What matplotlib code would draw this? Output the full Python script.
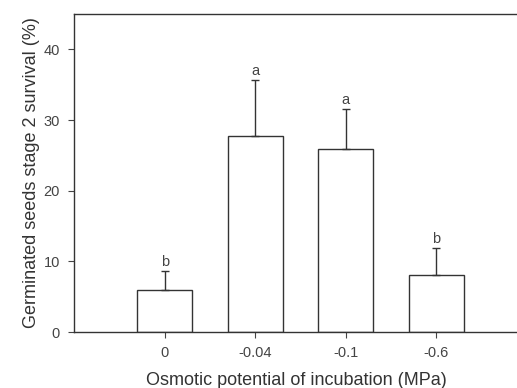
import matplotlib
matplotlib.use("Agg")
import matplotlib.pyplot as plt

# data
categories = ["0", "-0.04", "-0.1", "-0.6"]
survival = [6.0, 27.8, 25.9, 8.0]
errors = [2.7, 7.9, 5.7, 3.9]
letters = ["b", "a", "a", "b"]

plt.rcParams["font.family"] = ["Liberation Sans", "DejaVu Sans"]

fig = plt.figure(figsize=(5.17, 3.88), dpi=100)
ax = fig.add_axes([74 / 517, 56 / 388, 1 - 74 / 517 + 0.002, 318 / 388])

x = list(range(len(categories)))
ax.bar(x, survival, width=0.61, color="white", edgecolor="#333333", linewidth=1.0,
       yerr=[[0] * len(errors), errors], capsize=3,
       error_kw=dict(ecolor="#333333", elinewidth=1.0, capthick=1.0))

for xi, v, e, lab in zip(x, survival, errors, letters):
    ax.text(xi, v + e + 0.2, lab, ha="center", va="bottom", fontsize=10.5, color="#444444")

ax.set_xlim(-1, 3.9)
ax.set_ylim(0, 45)
ax.set_yticks([0, 10, 20, 30, 40])
ax.set_xticks(x)
ax.set_xticklabels(categories)
ax.tick_params(axis="both", direction="out", length=4, width=0.8, colors="#444444",
               labelsize=10.5, labelcolor="#444444", pad=6)
ax.spines["right"].set_visible(False)
for s in ["left", "top", "bottom"]:
    ax.spines[s].set_color("#333333")
    ax.spines[s].set_linewidth(1.0)

ax.set_xlabel("Osmotic potential of incubation (MPa)", fontsize=13, color="#333333", labelpad=9)
ax.set_ylabel("Germinated seeds stage 2 survival (%)", fontsize=13, color="#333333", labelpad=3)

fig.savefig("out.png", dpi=100)
